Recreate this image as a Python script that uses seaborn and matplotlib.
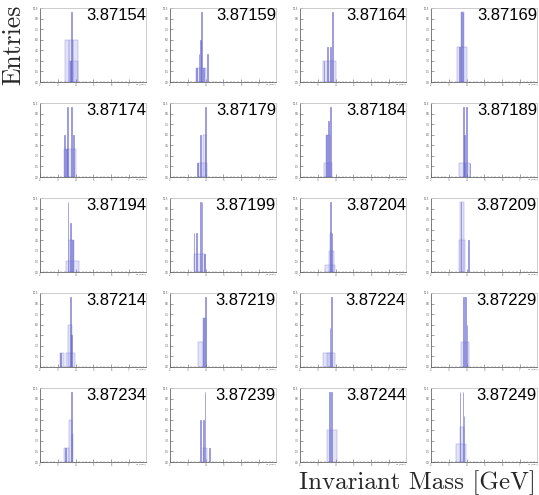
import matplotlib
matplotlib.use("Agg")
import matplotlib.pyplot as plt
from matplotlib.ticker import AutoMinorLocator, MaxNLocator
import seaborn as sns

sns.set_style("white")

# mass hypothesis shown in each pad (row by row)
labels = ["3.87154", "3.87159", "3.87164", "3.87169",
          "3.87174", "3.87179", "3.87184", "3.87189",
          "3.87194", "3.87199", "3.87204", "3.87209",
          "3.87214", "3.87219", "3.87224", "3.87229",
          "3.87234", "3.87239", "3.87244", "3.87249"]

# wide bins: low edge, high edge, entries
block_lo = [[3.38, 3.62, 3.88, 3.60], [3.45], [3.30], [3.47, 3.66],
            [3.33], [3.56, 3.85], [3.33, 3.47], [3.56, 3.90],
            [3.45, 3.64], [3.33], [3.40, 3.60, 3.68], [3.57, 3.62],
            [3.10, 3.47, 3.58], [3.56, 3.85], [3.30, 3.52], [3.66],
            [3.33, 3.62, 3.77], [3.85], [3.50], [3.40, 3.62]]
block_hi = [[3.62, 3.88, 4.13, 4.13], [4.00], [4.00], [4.00, 3.85],
            [4.00], [4.07, 4.04], [3.81, 3.71], [3.90, 4.19],
            [4.17, 3.89], [3.96], [3.98, 3.92, 3.80], [3.89, 3.85],
            [3.33, 3.94, 3.80], [3.85, 4.04], [3.94, 3.72], [4.13],
            [3.62, 3.77, 3.85], [4.05], [4.08], [3.96, 3.83]]
block_n = [[6, 6, 6, 3], [2], [3], [5, 10],
           [4], [2, 6], [2, 6], [2, 2],
           [1.5, 4.5], [2.5], [1, 3, 5.5], [4.5, 10],
           [2, 2, 6], [3.5, 7], [2, 2], [3.5],
           [2, 6, 4], [2], [4.5], [2.5, 5]]

# narrow bins: centre, entries
spike_x = [[3.75, 3.70], [3.50, 3.62, 3.72, 3.78, 3.90, 4.10],
           [3.35, 3.55, 3.70, 3.82], [3.58, 3.72, 3.80],
           [3.39, 3.47, 3.56, 3.77, 3.89], [3.56, 3.70, 3.98],
           [3.47, 3.58, 3.71], [3.83, 3.89, 3.98, 4.19],
           [3.57, 3.70, 3.83], [3.35, 3.50, 3.71, 3.79, 3.93],
           [3.73, 3.80], [3.69, 4.11],
           [3.15, 3.70, 3.75], [3.90, 3.98], [3.68, 3.77],
           [3.81, 3.94, 4.02], [3.45, 3.75],
           [3.70, 3.89, 3.96, 4.23], [3.65, 3.77], [3.63, 3.79, 3.85]]
spike_n = [[10, 3], [2, 4, 6, 10, 2, 4],
           [3, 5, 5, 10], [5, 10, 10],
           [6, 4, 10, 10, 6], [2, 6, 10],
           [6, 8, 10], [10, 6, 10, 2],
           [10, 7, 4.5], [5.5, 5.5, 10, 10, 2.5],
           [10, 5.5], [10, 4.5],
           [2, 10, 4.5], [7, 10], [5.5, 10],
           [10, 10, 6], [2, 10],
           [6, 6, 10, 2], [10, 10], [10, 10, 6.5]]

W, H = 539, 495
fig = plt.figure(figsize=(W / 100, H / 100), dpi=100)

col_left = [40, 170, 300, 431]
row_top = [8, 103, 198, 293, 388]
pad_w, pad_h = 106, 74

fill = "#7070d8"

for i, lab in enumerate(labels):
    r, c = divmod(i, 4)
    ax = fig.add_axes([col_left[c] / W, 1 - (row_top[r] + pad_h) / H,
                       pad_w / W, pad_h / H])
    for lo, hi, n in zip(block_lo[i], block_hi[i], block_n[i]):
        sns.histplot(x=[(lo + hi) / 2], weights=[n], bins=[lo, hi], ax=ax,
                     color=fill, alpha=0.2, edgecolor="#9a9ae0", linewidth=0.35)
    for xc, n in zip(spike_x[i], spike_n[i]):
        sns.histplot(x=[xc], weights=[n], bins=[xc - 0.02, xc + 0.02], ax=ax,
                     color=fill, alpha=0.3, edgecolor="#6262cc", linewidth=0.4)
    ymax = max(block_n[i] + spike_n[i])
    ax.set_xlim(2, 7.95)
    ax.set_ylim(0, ymax * 1.05)
    ax.set_xlabel("")
    ax.set_ylabel("")
    ax.xaxis.set_minor_locator(AutoMinorLocator(5))
    ax.yaxis.set_major_locator(MaxNLocator(10))
    ax.tick_params(direction="in", labelsize=1.8, length=2, width=0.4,
                   pad=1, colors="#555555", bottom=True, left=True)
    ax.tick_params(which="minor", direction="in", length=1, width=0.3,
                   bottom=True, colors="#555555")
    for s in ["left", "bottom"]:
        ax.spines[s].set_color("#666666")
        ax.spines[s].set_linewidth(0.6)
    for s in ["top", "right"]:
        ax.spines[s].set_color("#c4c4c4")
        ax.spines[s].set_linewidth(0.6)
    ax.text(1.0, 1.0, lab, transform=ax.transAxes, ha="right", va="top",
            fontsize=12, family="Liberation Sans", color="black")
    ax.text(1.0, -0.025, "m [GeV]", transform=ax.transAxes, ha="right",
            va="top", fontsize=1.6, color="#555555")

fig.text(2 / W, 1 - 45 / H, "Entries", rotation=90, ha="left", va="center",
         fontsize=18.5, family="cmr10")
fig.text(536 / W, 1 - 489 / H, "Invariant Mass [GeV]", ha="right",
         va="baseline", fontsize=18, family="cmr10")

fig.savefig("out.png", dpi=100)
